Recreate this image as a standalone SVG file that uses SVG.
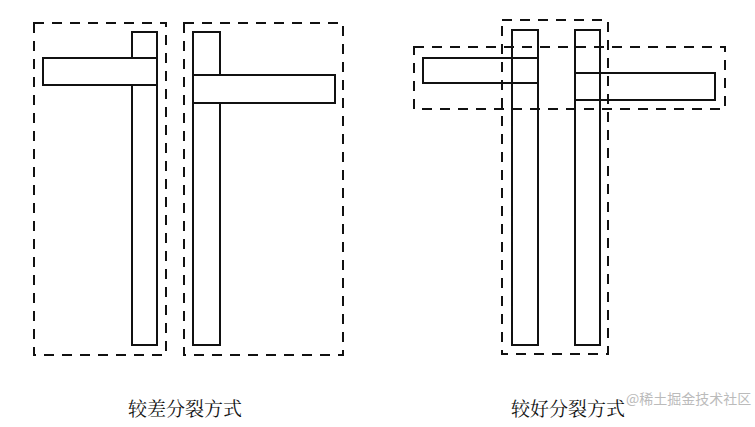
<svg xmlns="http://www.w3.org/2000/svg" width="755" height="427" viewBox="0 0 755 427">
<style>
.d{fill:none;stroke:#111;stroke-width:2;stroke-dasharray:10,8}
.b{fill:#fff;stroke:#111;stroke-width:2}
.t{font-family:"Liberation Serif","Noto Serif CJK SC","Noto Sans CJK SC",serif;font-size:19px;fill:#111}
.w{font-family:"Noto Sans CJK SC",sans-serif;font-size:14px;fill:#bbb}
</style>
<rect width="755" height="427" fill="#fff"/>
<g id="bad">
<rect class="d" x="34" y="23" width="132" height="332"/>
<rect class="d" x="184" y="23" width="159" height="332"/>
<rect class="b" x="132" y="32" width="25" height="313"/>
<rect class="b" x="193" y="32" width="27" height="313"/>
<rect class="b" x="43" y="58" width="114" height="27"/>
<rect class="b" x="193" y="75" width="142" height="28"/>
<line x1="132" y1="58" x2="157" y2="58" stroke="#111" stroke-width="2"/>
<line x1="132" y1="85" x2="157" y2="85" stroke="#111" stroke-width="2"/>
</g>
<g id="good">
<rect class="b" x="512" y="30" width="26" height="315"/>
<rect class="b" x="575" y="30" width="25" height="315"/>
<rect class="b" x="423" y="58" width="115" height="25" style="fill:none"/>
<rect class="b" x="575" y="73" width="140" height="27" style="fill:none"/>
<rect class="d" x="502" y="20" width="106" height="334"/>
<rect class="d" x="414" y="47" width="311" height="62"/>
</g>
<g id="labels">
<text class="t" x="185" y="416" text-anchor="middle">较差分裂方式</text>
<text class="t" x="568" y="416" text-anchor="middle">较好分裂方式</text>
<text class="w" x="626" y="404">@稀土掘金技术社区</text>
</g>
</svg>
